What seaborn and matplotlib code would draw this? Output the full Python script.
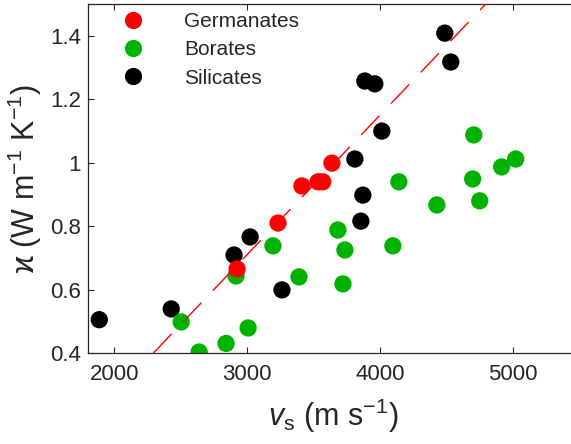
import matplotlib
matplotlib.use("Agg")
import matplotlib.pyplot as plt
import numpy as np
import pandas as pd
import seaborn as sns

# Shear sound velocity (m/s) and thermal conductivity (W m^-1 K^-1) per glass family
silicate_vs = [1887, 2429, 2902, 3023, 3263, 3812, 3857, 3872, 3887, 3962, 4015, 4489, 4534]
silicate_k = [0.505, 0.539, 0.709, 0.766, 0.599, 1.012, 0.816, 0.898, 1.258, 1.249, 1.100, 1.409, 1.318]

borate_vs = [2504, 2639, 2842, 3008, 2917, 3195, 3391, 3684, 3737, 3722, 4098,
             4143, 4429, 4707, 4699, 4752, 4917, 5023]
borate_k = [0.498, 0.403, 0.430, 0.479, 0.643, 0.738, 0.640, 0.788, 0.725, 0.618, 0.738,
            0.940, 0.867, 1.088, 0.949, 0.880, 0.987, 1.012]

germanate_vs = [2925, 3233, 3413, 3535, 3570, 3639]
germanate_k = [0.665, 0.810, 0.927, 0.940, 0.940, 0.999]

# Linear trend kappa = slope * v_s + intercept
fit_slope = 4.4e-4
fit_intercept = -0.61

families = ["Germanates", "Borates", "Silicates"]
family_colors = {"Germanates": (1.0, 0.0, 0.0),
                 "Borates": (0.0, 0.70, 0.0),
                 "Silicates": (0.0, 0.0, 0.0)}

x_ticks = [2000, 3000, 4000, 5000]
y_ticks = [0.4, 0.6, 0.8, 1.0, 1.2, 1.4]
y_tick_labels = ["0.4", "0.6", "0.8", "1", "1.2", "1.4"]

# Silicates first, germanates last so they sit on top
df = pd.concat([
    pd.DataFrame({"vs": silicate_vs, "kappa": silicate_k, "family": "Silicates"}),
    pd.DataFrame({"vs": borate_vs, "kappa": borate_k, "family": "Borates"}),
    pd.DataFrame({"vs": germanate_vs, "kappa": germanate_k, "family": "Germanates"}),
], ignore_index=True)

sns.set_theme(style="white")
plt.rcParams["font.family"] = ["Liberation Sans", "DejaVu Sans"]
plt.rcParams["mathtext.fontset"] = "custom"
plt.rcParams["mathtext.rm"] = "Liberation Sans"
plt.rcParams["mathtext.it"] = "Liberation Sans:italic"

ink = "#262626"
fig = plt.figure(figsize=(5.71, 4.44), dpi=100)
ax = fig.add_axes([0.1536, 0.205, 0.8605, 0.7853])

sns.scatterplot(data=df, x="vs", y="kappa", hue="family", hue_order=families,
                palette=family_colors, s=155, linewidth=0, ax=ax, legend=True)

ax.axline((0, fit_intercept), slope=fit_slope, color=(1.0, 0.0, 0.0),
          linewidth=1.0, dashes=(19, 12), zorder=3)

ax.set_xlim(1800, 5500)
ax.set_ylim(0.4, 1.5)
ax.set_xticks(x_ticks)
ax.set_xticklabels([str(t) for t in x_ticks])
ax.set_yticks(y_ticks)
ax.set_yticklabels(y_tick_labels)
ax.tick_params(axis="both", which="major", direction="in", length=4, width=0.8,
               color=ink, labelcolor=ink, labelsize=16,
               bottom=True, left=True, top=True, right=True)
ax.tick_params(axis="x", pad=8)
ax.tick_params(axis="y", pad=5)
for side in ["left", "bottom", "top", "right"]:
    ax.spines[side].set_visible(True)
    ax.spines[side].set_color(ink)
    ax.spines[side].set_linewidth(0.9)

ax.set_xlabel(r"$v_{\mathrm{s}}$ (m s$^{\mathrm{-1}}$)", fontsize=22, color=ink)
ax.set_ylabel("\u03f0 (W m$^{\\mathrm{-1}}$ K$^{\\mathrm{-1}}$)", fontsize=22, color=ink)
ax.xaxis.set_label_coords(0.50, -0.125)
ax.yaxis.set_label_coords(-0.088, 0.5)

handles, labels = ax.get_legend_handles_labels()
leg = ax.legend(handles, labels, loc="upper left", bbox_to_anchor=(0.02, 1.02),
                frameon=False, fontsize=15, markerscale=1.0, handletextpad=1.45,
                labelspacing=0.45, borderaxespad=0.3)
for h in leg.legend_handles:
    h.set_sizes([155]) if hasattr(h, "set_sizes") else h.set_markersize(12.4)

fig.savefig("out.png", dpi=100)
